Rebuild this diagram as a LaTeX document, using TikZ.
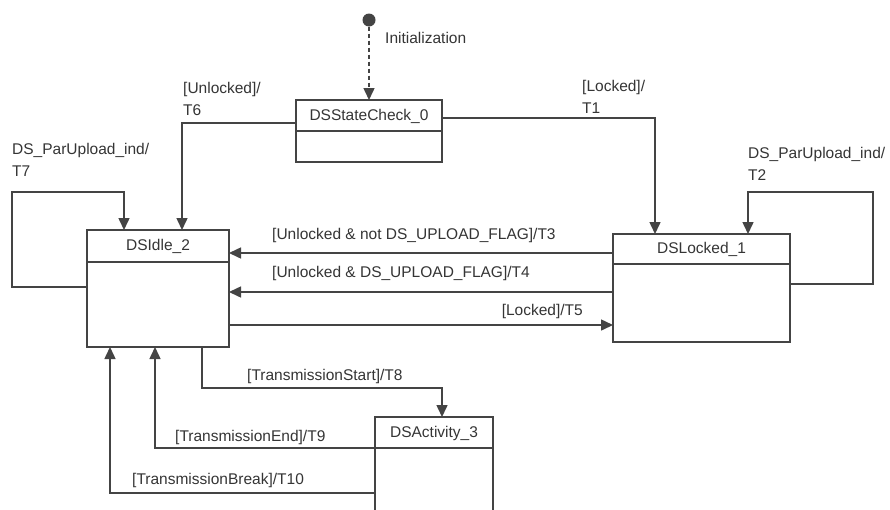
\documentclass[tikz,border=0pt]{standalone}
\usepackage{fontspec}
\setmainfont{Liberation Sans}
\usetikzlibrary{arrows.meta,calc}
\definecolor{lc}{HTML}{444444}
\definecolor{tc}{HTML}{353535}
\tikzset{
  st/.style={draw=lc, line width=1.5pt, rectangle, inner sep=0pt, outer sep=0pt, anchor=north west},
  ln/.style={draw=lc, line width=1.5pt},
  arr/.style={ln, -{Triangle[length=12pt,width=11pt]}},
  lab/.style={text=tc, inner sep=0pt, font=\fontsize{15.5}{22}\selectfont, align=left},
  ttl/.style={text=tc, inner sep=0pt, font=\fontsize{15.5}{22}\selectfont},
}
\begin{document}
\begin{tikzpicture}[x=1pt,y=-1pt]
\useasboundingbox[fill=white] (0,0) rectangle (890,509);
\begin{scope}
\clip (0,0) rectangle (890,509);
% states
\node[st, minimum width=146pt, minimum height=62pt] (sc) at (296,100) {};
\node[st, minimum width=142pt, minimum height=117pt] (idle) at (87,230) {};
\node[st, minimum width=177pt, minimum height=108pt] (locked) at (613,234) {};
\node[st, minimum width=118pt, minimum height=110pt] (act) at (375,417) {};
% titles and dividers
\node[ttl] (sct) at ($(sc.north)+(0,16)$) {DSStateCheck\_0};
\draw[ln] ($(sc.north west)+(0,31)$) -- ($(sc.north east)+(0,31)$);
\node[ttl] (idlet) at ($(idle.north)+(0,16)$) {DSIdle\_2};
\draw[ln] ($(idle.north west)+(0,32)$) -- ($(idle.north east)+(0,32)$);
\node[ttl] (lockedt) at ($(locked.north)+(0,15)$) {DSLocked\_1};
\draw[ln] ($(locked.north west)+(0,30)$) -- ($(locked.north east)+(0,30)$);
\node[ttl] (actt) at ($(act.north)+(0,16)$) {DSActivity\_3};
\draw[ln] ($(act.north west)+(0,31)$) -- ($(act.north east)+(0,31)$);
% initial
\node[circle, fill=lc, inner sep=0pt, minimum size=13pt] (init) at (369,20) {};
\draw[arr, dashed, dash pattern=on 4pt off 3pt] (init) -- (sc.north);
\node[lab, anchor=west] (linit) at (385,38) {Initialization};
% T6
\draw[arr] ($(sc.north west)+(0,23)$) -| ($(idle.north west)+(95,0)$);
\node[lab, anchor=west] (l6) at (183,99) {[Unlocked]/\\T6};
% T1
\draw[arr] ($(sc.north east)+(0,18)$) -| ($(locked.north west)+(42,0)$);
\node[lab, anchor=west] (l1) at (582,97) {[Locked]/\\T1};
% T7
\coordinate (c7) at (12,192);
\draw[arr] ($(idle.north west)+(0,57)$) -| (c7) -| ($(idle.north west)+(37,0)$);
\node[lab, anchor=west] (l7) at (12,160) {DS\_ParUpload\_ind/\\T7};
% T2
\coordinate (c2) at (873,192);
\draw[arr] ($(locked.north east)+(0,50)$) -| (c2) -| ($(locked.north west)+(135,0)$);
\node[lab, anchor=west] (l2) at (748,164) {DS\_ParUpload\_ind/\\T2};
% T3, T4, T5
\draw[arr] ($(locked.north west)+(0,19)$) -- ($(idle.north east)+(0,23)$);
\node[lab, anchor=west] (l3) at (272,235) {[Unlocked \& not DS\_UPLOAD\_FLAG]/T3};
\draw[arr] ($(locked.north west)+(0,58)$) -- ($(idle.north east)+(0,62)$);
\node[lab, anchor=west] (l4) at (272,273) {[Unlocked \& DS\_UPLOAD\_FLAG]/T4};
\draw[arr] ($(idle.north east)+(0,95)$) -- ($(locked.north west)+(0,91)$);
\node[lab, anchor=east] (l5) at (583,311) {[Locked]/T5};
% T8
\draw[arr] ($(idle.south west)+(115,0)$) |- ($(act.north west)+(67,-29)$) -- ($(act.north west)+(67,0)$);
\node[lab, anchor=west] (l8) at (247,376) {[TransmissionStart]/T8};
% T9
\draw[arr] ($(act.north west)+(0,31)$) -| ($(idle.south west)+(68,0)$);
\node[lab, anchor=west] (l9) at (175,437) {[TransmissionEnd]/T9};
% T10
\draw[arr] ($(act.north west)+(0,76)$) -| ($(idle.south west)+(23,0)$);
\node[lab, anchor=west] (l10) at (132,480) {[TransmissionBreak]/T10};
\end{scope}
\end{tikzpicture}
\end{document}
